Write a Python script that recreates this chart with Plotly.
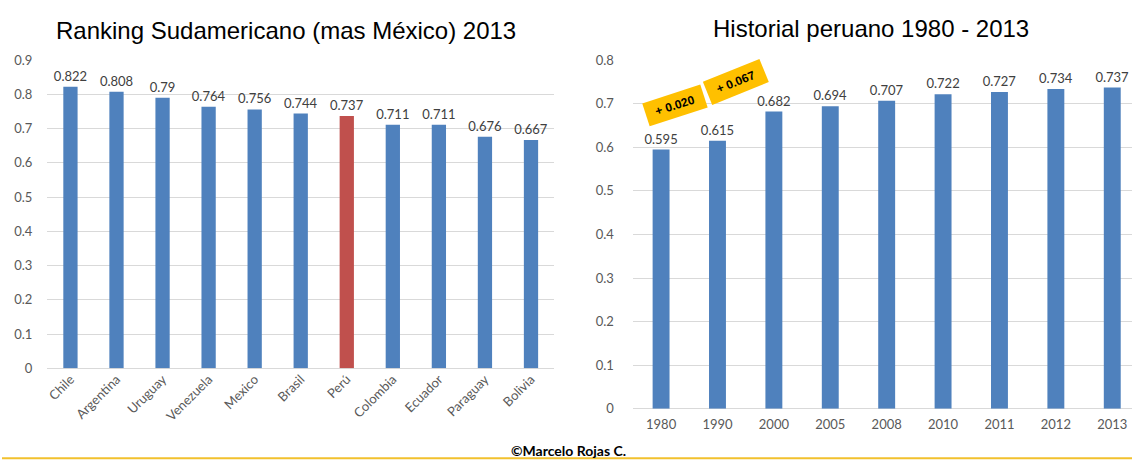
import plotly.graph_objects as go

countries = ["Chile", "Argentina", "Uruguay", "Venezuela", "Mexico", "Brasil", "Perú",
             "Colombia", "Ecuador", "Paraguay", "Bolivia"]
country_values = [0.822, 0.808, 0.79, 0.764, 0.756, 0.744, 0.737, 0.711, 0.711, 0.676, 0.667]
country_labels = ["0.822", "0.808", "0.79", "0.764", "0.756", "0.744", "0.737", "0.711", "0.711", "0.676", "0.667"]

years = ["1980", "1990", "2000", "2005", "2008", "2010", "2011", "2012", "2013"]
peru_values = [0.595, 0.615, 0.682, 0.694, 0.707, 0.722, 0.727, 0.734, 0.737]
peru_labels = ["0.595", "0.615", "0.682", "0.694", "0.707", "0.722", "0.727", "0.734", "0.737"]

left_ticks = [0, 0.1, 0.2, 0.3, 0.4, 0.5, 0.6, 0.7, 0.8, 0.9]
right_ticks = [0, 0.1, 0.2, 0.3, 0.4, 0.5, 0.6, 0.7, 0.8]

BLUE = "#4F81BD"
RED = "#C0504D"
bar_colors = [RED if c == "Perú" else BLUE for c in countries]

label_font = dict(family="Lato, Open Sans, sans-serif", size=13, color="#404040")

fig = go.Figure()
fig.add_trace(go.Bar(
    x=countries, y=country_values, text=country_labels, textposition="outside",
    marker=dict(color=bar_colors, line=dict(width=0)), width=0.31,
    textfont=label_font, constraintext="none",
    cliponaxis=False, xaxis="x", yaxis="y", showlegend=False,
))
fig.add_trace(go.Bar(
    x=years, y=peru_values, text=peru_labels, textposition="outside",
    marker=dict(color=BLUE, line=dict(width=0)), width=0.3,
    textfont=label_font, constraintext="none",
    cliponaxis=False, xaxis="x2", yaxis="y2", showlegend=False,
))

W, H = 1132, 470
tickfont = dict(family="Lato, Open Sans, sans-serif", size=13, color="#595959")

fig.update_layout(
    width=W, height=H, autosize=False, margin=dict(l=0, r=0, t=0, b=0),
    paper_bgcolor="white", plot_bgcolor="white",
    bargap=0.7, uniformtext=dict(mode=False),
    xaxis=dict(domain=[45.5 / W, 553 / W], anchor="y", tickangle=-45, tickfont=tickfont,
               showgrid=False, showline=False, ticks="", range=[-0.5, 10.5]),
    yaxis=dict(domain=[(H - 373) / H, (H - 54) / H], anchor="x", range=[0, 0.9],
               tickvals=left_ticks, ticktext=[f"{v:g}" for v in left_ticks],
               tickfont=tickfont, gridcolor="#D9D9D9", gridwidth=1,
               zeroline=True, zerolinecolor="#D9D9D9", zerolinewidth=1,
               showline=False, ticks="", ticklabelstandoff=14),
    xaxis2=dict(domain=[632 / W, 1.0], anchor="y2", tickfont=tickfont,
                showgrid=False, showline=False, ticks="", range=[-0.5, 8.35],
                ticklabelstandoff=6),
    yaxis2=dict(domain=[(H - 415) / H, (H - 54) / H], anchor="x2", range=[0, 0.8],
                tickvals=right_ticks, ticktext=[f"{v:g}" for v in right_ticks],
                tickfont=tickfont, gridcolor="#D9D9D9", gridwidth=1,
                zeroline=True, zerolinecolor="#D9D9D9", zerolinewidth=1,
                showline=False, ticks="", ticklabelstandoff=18),
)

title_font = dict(family="Liberation Sans, Arial, sans-serif", size=24, color="#000000")
box_font = dict(family="Liberation Sans Narrow, Arial Narrow, Arial, sans-serif", size=12, color="#000000")
annotations = [
    dict(text="Ranking Sudamericano (mas México) 2013", x=285 / W, y=(H - 23) / H,
         xref="paper", yref="paper", showarrow=False, font=title_font,
         xanchor="center", yanchor="middle"),
    dict(text="Historial peruano 1980 - 2013", x=871 / W, y=(H - 21) / H,
         xref="paper", yref="paper", showarrow=False, font=title_font,
         xanchor="center", yanchor="middle"),
    dict(text="<b>+ 0.020</b>", x=674 / W, y=(H - 101) / H, xref="paper", yref="paper",
         showarrow=False, textangle=-18, bgcolor="#FFC000", font=box_font,
         width=58, height=21, borderpad=1, xanchor="center", yanchor="middle"),
    dict(text="<b>+ 0.067</b>", x=735 / W, y=(H - 77) / H, xref="paper", yref="paper",
         showarrow=False, textangle=-22, bgcolor="#FFC000", font=box_font,
         width=58, height=22, borderpad=1, xanchor="center", yanchor="middle"),
    dict(text="<b>©Marcelo Rojas C.</b>", x=568 / W, y=(H - 458) / H, xref="paper", yref="paper",
         showarrow=False, font=dict(family="Lato, Open Sans, sans-serif", size=14, color="#000000"),
         xanchor="center", yanchor="middle"),
]
fig.update_layout(annotations=annotations)
fig.add_shape(type="line", xref="paper", yref="paper", x0=0, x1=1,
              y0=(H - 466) / H, y1=(H - 466) / H, line=dict(color="#F2C12E", width=2))

fig.write_html("out.html",
               config={"responsive": False, "displayModeBar": False},
               post_script="document.body.style.margin='0';document.body.style.overflow='hidden';")
